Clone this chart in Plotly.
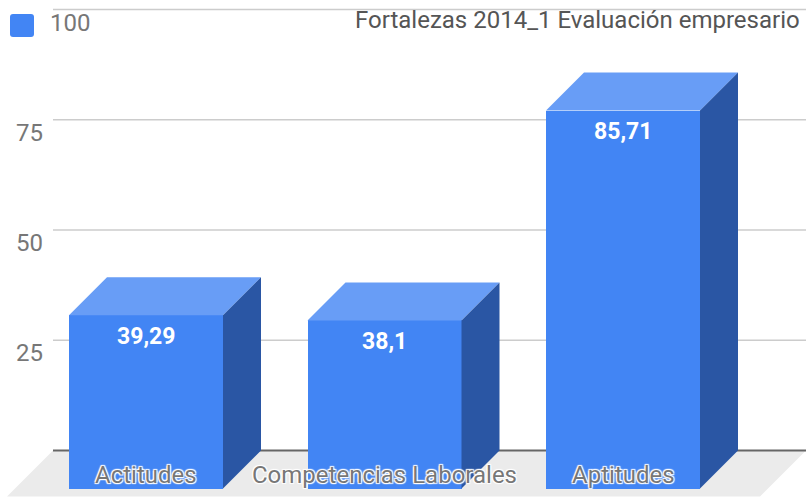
import plotly.graph_objects as go

# ---- data ----
categories = ["Actitudes", "Competencias Laborales", "Aptitudes"]
values = [39.29, 38.1, 85.71]
value_labels = ["39,29", "38,1", "85,71"]
series_name = "100"
title_text = "Fortalezas 2014_1 Evaluación empresario"
grid_values = [25, 50, 75, 100]
tick_values = [25, 50, 75]
tick_labels = ["25", "50", "75"]

# ---- geometry / style (pixel-based constants turned into axis units) ----
W, H = 806, 502
px_per_cat = 238.5          # pixels between category centres
cat0_px = 146.0             # pixel x of first category centre (front face)
px_per_unit = 4.41          # pixels per value unit
zero_px = 450.5             # pixel y of value 0 on back wall
depth_px = 38.0             # 3D depth offset (right/up)
bar_w_px = 154.0
floor_depth_px = 46.0

xr = [-cat0_px / px_per_cat, (W - cat0_px) / px_per_cat]
yr = [(zero_px - H) / px_per_unit, zero_px / px_per_unit]
dx = depth_px / px_per_cat
dy = depth_px / px_per_unit
hw = bar_w_px / 2 / px_per_cat
grid_left = (53 - cat0_px) / px_per_cat
floor_dx = floor_depth_px / px_per_cat
floor_dy = floor_depth_px / px_per_unit

FRONT = "#4285F4"
TOP = "#689DF6"
SIDE = "#2A56A4"
FONT = "Roboto"

xs = list(range(len(categories)))

fig = go.Figure()

# front faces
fig.add_trace(go.Bar(
    x=xs, y=values, base=[-dy] * len(values), width=2 * hw,
    marker=dict(color=FRONT, line=dict(width=0)), showlegend=False,
    hoverinfo="skip",
))

# top faces
tx, ty = [], []
for i, v in zip(xs, values):
    tx += [i - hw, i + hw, i + hw + dx, i - hw + dx, i - hw, None]
    ty += [v - dy, v - dy, v, v, v - dy, None]
fig.add_trace(go.Scatter(x=tx, y=ty, fill="toself", fillcolor=TOP, mode="lines",
                         line=dict(width=0, color=TOP), showlegend=False, hoverinfo="skip"))

# side faces
sx, sy = [], []
for i, v in zip(xs, values):
    sx += [i + hw, i + hw + dx, i + hw + dx, i + hw, i + hw, None]
    sy += [-dy, 0, v, v - dy, -dy, None]
fig.add_trace(go.Scatter(x=sx, y=sy, fill="toself", fillcolor=SIDE, mode="lines",
                         line=dict(width=0, color=SIDE), showlegend=False, hoverinfo="skip"))

shapes = []
# floor
shapes.append(dict(type="path", layer="below", xref="x", yref="y",
                   path=f"M {grid_left},0 L {xr[1]},0 L {xr[1]-floor_dx},{-floor_dy} "
                        f"L {grid_left-floor_dx},{-floor_dy} Z",
                   fillcolor="#EBEBEB", line=dict(width=0)))
# gridlines
for g in grid_values:
    shapes.append(dict(type="line", layer="below", xref="x", yref="y",
                       x0=grid_left, x1=xr[1], y0=g, y1=g,
                       line=dict(color="#CCCCCC", width=1.5)))
# baseline
shapes.append(dict(type="line", layer="below", xref="x", yref="y",
                   x0=grid_left, x1=xr[1], y0=0, y1=0,
                   line=dict(color="#666666", width=2)))
# legend swatch (rounded square)
lx0, lx1, ly0, ly1, r = 10, 34, 14, 37, 3
def P(x, y):
    return f"{x / W},{1 - y / H}"
swatch = (f"M {P(lx0 + r, ly0)} L {P(lx1 - r, ly0)} Q {P(lx1, ly0)} {P(lx1, ly0 + r)} "
          f"L {P(lx1, ly1 - r)} Q {P(lx1, ly1)} {P(lx1 - r, ly1)} "
          f"L {P(lx0 + r, ly1)} Q {P(lx0, ly1)} {P(lx0, ly1 - r)} "
          f"L {P(lx0, ly0 + r)} Q {P(lx0, ly0)} {P(lx0 + r, ly0)} Z")
shapes.append(dict(type="path", xref="paper", yref="paper", path=swatch,
                   fillcolor=FRONT, line=dict(width=0)))

annotations = []
# value labels
for i, v, t in zip(xs, values, value_labels):
    annotations.append(dict(x=i, y=v - dy - 21 / px_per_unit, xref="x", yref="y",
                            text=t, showarrow=False, yanchor="middle",
                            font=dict(family=FONT, size=23, color="white", weight="bold")))
# category labels
halo = ("white 1px 1px 1px, white -1px -1px 1px, white 1px -1px 1px, white -1px 1px 1px, "
        "white 0px 0px 2px")
for i, c in zip(xs, categories):
    annotations.append(dict(x=i, y=(zero_px - 475) / px_per_unit, xref="x", yref="y",
                            text=c, showarrow=False, yanchor="middle",
                            font=dict(family=FONT, size=24, color="#777777", shadow=halo)))
# y tick labels
for tv, tl in zip(tick_values, tick_labels):
    annotations.append(dict(x=45 / W, xref="paper", y=tv - 13 / px_per_unit, yref="y",
                            text=tl, showarrow=False, xanchor="right", yanchor="middle",
                            font=dict(family=FONT, size=24, color="#777777")))
# legend text
annotations.append(dict(x=48 / W, y=1 - 23 / H, xref="paper", yref="paper", text=series_name,
                        showarrow=False, xanchor="left", yanchor="middle",
                        font=dict(family=FONT, size=24, color="#777777")))
# title
annotations.append(dict(x=353 / W, y=1 - 20 / H, xref="paper", yref="paper", text=title_text,
                        showarrow=False, xanchor="left", yanchor="middle",
                        font=dict(family=FONT, size=24, color="#555555")))

fig.update_layout(
    width=W, height=H, margin=dict(l=0, r=0, t=0, b=0),
    paper_bgcolor="white", plot_bgcolor="white",
    xaxis=dict(range=xr, visible=False, fixedrange=True),
    yaxis=dict(range=yr, visible=False, fixedrange=True),
    shapes=shapes, annotations=annotations, bargap=0,
)

fig.write_html("out.html", config={"displayModeBar": False},
               post_script="document.body.style.margin='0';")
